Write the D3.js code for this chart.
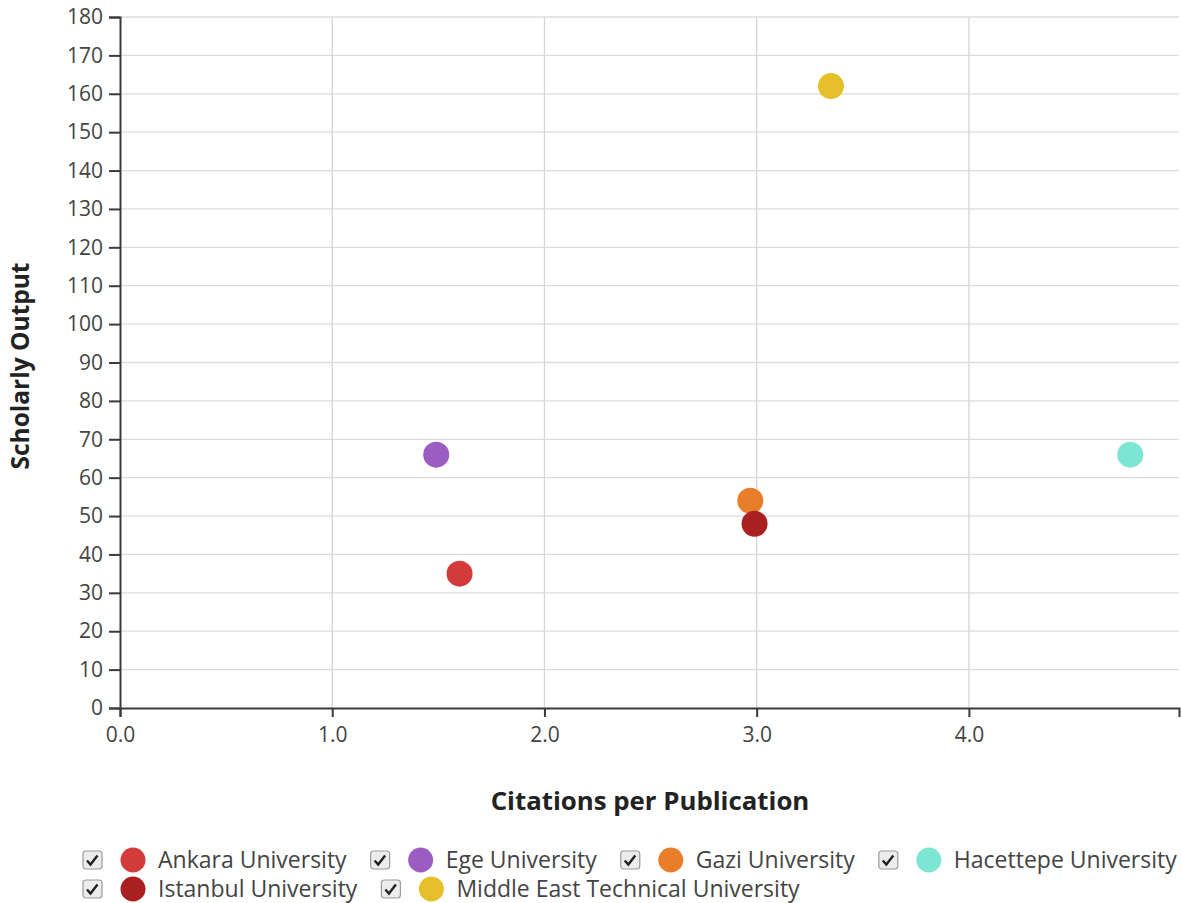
<!DOCTYPE html>
<html>
<head>
<meta charset="utf-8">
<script src="https://cdn.jsdelivr.net/npm/d3@7"></script>
<style>
  html, body { margin: 0; padding: 0; background: #fff; }
  svg { display: block; font-family: "Open Sans", sans-serif; }
</style>
</head>
<body>
<svg id="chart" width="1182" height="903"></svg>
<script>
const universities = ["Ankara University", "Ege University", "Gazi University", "Hacettepe University", "Istanbul University", "Middle East Technical University"];
const citationsPerPublication = [1.60, 1.49, 2.97, 4.76, 2.99, 3.35];
const scholarlyOutput = [35, 66, 54, 66, 48, 162];
const colors = ["#d33a3a", "#9b5cc4", "#e87e2a", "#7ce6d3", "#aa1f1f", "#e5c02b"];
const xTicks = [0, 1, 2, 3, 4];
const yTicks = d3.range(0, 181, 10);

const svg = d3.select("#chart");
const margin = {left: 120, right: 3, top: 17, bottom: 195};
const W = 1182, H = 903;

const x = d3.scaleLinear().domain([0, 4.99]).range([margin.left, W - margin.right]);
const y = d3.scaleLinear().domain([0, 180]).range([H - margin.bottom, margin.top]);

// gridlines
svg.append("g").selectAll("line").data(yTicks.filter(d => d > 0)).join("line")
  .attr("x1", x(0)).attr("x2", x(4.99)).attr("y1", d => y(d)).attr("y2", d => y(d))
  .attr("stroke", "#dcdcdc").attr("stroke-width", 1.3);
svg.append("g").selectAll("line").data(xTicks.filter(d => d > 0)).join("line")
  .attr("x1", d => x(d)).attr("x2", d => x(d)).attr("y1", y(0)).attr("y2", y(180))
  .attr("stroke", "#d6d6d6").attr("stroke-width", 1.3);

// axes
const xAxis = svg.append("g").attr("transform", `translate(0,${y(0)})`)
  .call(d3.axisBottom(x).tickValues(xTicks).tickFormat(d3.format(".1f")).tickSizeOuter(0).tickSize(9).tickPadding(10));
const yAxis = svg.append("g").attr("transform", `translate(${x(0)},0)`)
  .call(d3.axisLeft(y).tickValues(yTicks).tickSizeOuter(0).tickSize(11).tickPadding(6));
[xAxis, yAxis].forEach(a => {
  a.select(".domain").attr("stroke", "#3a3a3a").attr("stroke-width", 2);
  a.selectAll(".tick line").attr("stroke", "#3a3a3a").attr("stroke-width", 2);
  a.selectAll(".tick text").attr("fill", "#444").style("font-size", "21px").style("font-family", "Open Sans, sans-serif");
});

// axis titles
svg.append("text").attr("x", 650).attr("y", 810).attr("text-anchor", "middle")
  .style("font-size", "25.8px").style("font-weight", "bold").attr("fill", "#222")
  .text("Citations per Publication");
svg.append("text").attr("transform", `translate(29,${366}) rotate(-90)`).attr("text-anchor", "middle")
  .style("font-size", "24.5px").style("font-weight", "bold").attr("fill", "#222")
  .text("Scholarly Output");

// points
const data = universities.map((u, i) => ({u, x: citationsPerPublication[i], y: scholarlyOutput[i], c: colors[i]}));
svg.append("g").selectAll("circle").data(data).join("circle")
  .attr("cx", d => x(d.x)).attr("cy", d => y(d.y)).attr("r", 13).attr("fill", d => d.c);

// legend
const legend = svg.append("g");
let lx = 82, ly = 860;
data.forEach((d, i) => {
  const g = legend.append("g");
  const t = g.append("text").attr("x", 76).attr("y", 0).attr("dy", "0.35em")
    .style("font-size", "23px").attr("fill", "#444").text(d.u);
  const w = 76 + t.node().getComputedTextLength();
  if (i === 4) { lx = 82; ly += 29; }
  g.attr("transform", `translate(${lx},${ly})`);
  g.append("rect").attr("x", 1).attr("y", -9).attr("width", 19).attr("height", 18).attr("rx", 3)
    .attr("fill", "#ececec").attr("stroke", "#9a9a9a").attr("stroke-width", 1.2);
  g.append("path").attr("d", "M5,0.5 L8.5,4.5 L15.5,-4.5").attr("fill", "none").attr("stroke", "#222").attr("stroke-width", 2.4);
  g.append("circle").attr("cx", 51).attr("cy", 0).attr("r", 12.5).attr("fill", d.c);
  lx += w + 23;
});
</script>
</body>
</html>
